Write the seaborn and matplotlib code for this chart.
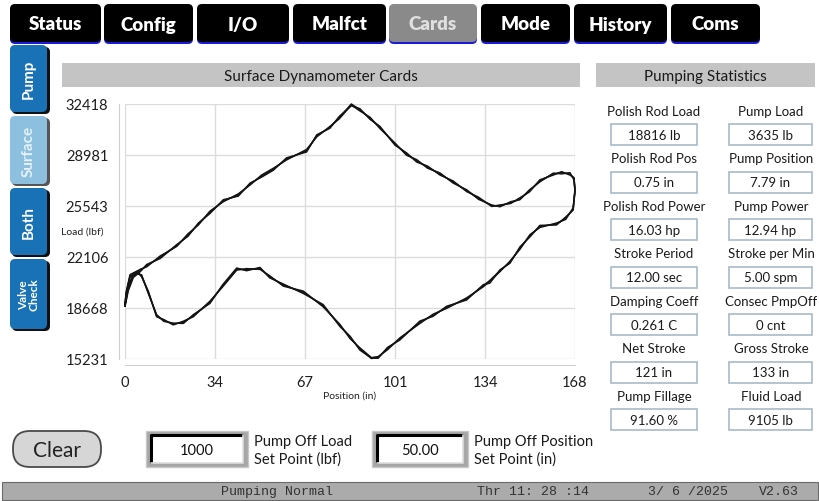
import numpy as np
import pandas as pd
import matplotlib
matplotlib.use("Agg")
import matplotlib.pyplot as plt
from matplotlib.patches import FancyBboxPatch, Rectangle
from matplotlib.ticker import AutoMinorLocator
import seaborn as sns

# surface card, three overlaid strokes (position in, load lbf)
position = [0.0, 1.2, 3.1, 5.6, 8.1, 13.1, 19.3, 23.5, 27.4, 31.7,
            36.7, 42.3, 46.7, 51.0, 55.4, 60.3, 67.8, 71.6, 76.5, 80.0,
            84.5, 87.7, 91.5, 95.2, 100.8, 105.1, 108.9, 113.0, 117.6, 122.5,
            127.6, 132.0, 136.9, 140.0, 144.0, 147.4, 151.0, 154.9, 159.9, 163.0,
            166.1, 167.6, 168.0, 167.3, 164.5, 161.1, 154.9, 151.2, 147.5, 143.7,
            140.0, 136.2, 133.8, 127.5, 120.1, 115.0, 110.1, 102.6, 98.0, 94.5,
            92.0, 87.7, 84.0, 80.3, 74.0, 66.6, 59.1, 54.0, 50.4, 45.4,
            41.7, 36.5, 31.7, 25.5, 21.8, 18.0, 14.5, 11.8, 8.7, 6.2,
            4.4, 1.9, 0.4, 0.0]
load_a = [18800, 19920, 20820, 21160, 21500, 22060, 22850, 23550, 24310, 25100,
          25880, 26270, 27010, 27550, 28020, 28700, 29260, 30270, 30840, 31500,
          32418, 32030, 31450, 30840, 29710, 29040, 28580, 28150, 27690, 27150,
          26560, 26050, 25545, 25545, 25750, 26000, 26550, 27230, 27690, 27780,
          27690, 27400, 26600, 25320, 24700, 24310, 24150, 23520, 22700, 21730,
          21160, 20500, 20150, 19250, 18690, 18150, 17680, 16550, 15900, 15300,
          15231, 15870, 16660, 17445, 18795, 19700, 20190, 20750, 21320, 21225,
          21270, 20150, 19020, 18120, 17675, 17560, 17800, 18120, 19700, 20820,
          21050, 20820, 19600, 18800]
load_b = [18850, 20100, 20950, 21250, 21420, 22150, 22800, 23650, 24250, 25180,
          25820, 26350, 26950, 27620, 28080, 28640, 29350, 30200, 30900, 31420,
          32350, 31950, 31520, 30760, 29780, 28960, 28660, 28080, 27760, 27080,
          26620, 25980, 25600, 25480, 25820, 25950, 26620, 27160, 27750, 27700,
          27780, 27300, 26500, 25400, 24620, 24380, 24080, 23600, 22620, 21800,
          21100, 20450, 20080, 19320, 18620, 18220, 17600, 16620, 15820, 15360,
          15290, 15950, 16580, 17520, 18720, 19780, 20120, 20820, 21250, 21300,
          21200, 20080, 19100, 18050, 17750, 17500, 17860, 18050, 19780, 20750,
          21120, 20900, 19700, 18850]
load_c = [18750, 19800, 20700, 21080, 21580, 21980, 22920, 23480, 24380, 25020,
          25950, 26200, 27080, 27480, 27950, 28780, 29180, 30340, 30780, 31580,
          32300, 32100, 31380, 30900, 29640, 29120, 28500, 28220, 27620, 27220,
          26500, 26120, 25500, 25600, 25700, 26080, 26480, 27300, 27620, 27850,
          27620, 27450, 26700, 25250, 24780, 24250, 24220, 23450, 22780, 21660,
          21220, 20320, 20220, 19180, 18760, 18080, 17760, 16480, 15980, 15250,
          15260, 15800, 16740, 17380, 18870, 19620, 20260, 20680, 21380, 21160,
          21340, 20220, 18950, 18190, 17600, 17620, 17740, 18190, 19620, 20880,
          20980, 20740, 19520, 18780]

x_ticks = [0, 33.6, 67.2, 100.8, 134.4, 168]
x_tick_labels = ["0", "34", "67", "101", "134", "168"]
y_ticks = [15231, 18668.4, 22105.8, 25543.2, 28980.6, 32418]
y_tick_labels = ["15231", "18668", "22106", "25543", "28981", "32418"]

tabs = ["Status", "Config", "I/O", "Malfct", "Cards", "Mode", "History", "Coms"]
active_tab = "Cards"
side_buttons = ["Pump", "Surface", "Both", "Valve\nCheck"]
active_button = "Surface"

stat_labels_left = ["Polish Rod Load", "Polish Rod Pos", "Polish Rod Power", "Stroke Period",
                    "Damping Coeff", "Net Stroke", "Pump Fillage"]
stat_values_left = ["18816 lb", "0.75 in", "16.03 hp", "12.00 sec", "0.261 C", "121 in", "91.60 %"]
stat_labels_right = ["Pump Load", "Pump Position", "Pump Power", "Stroke per Min",
                     "Consec PmpOff", "Gross Stroke", "Fluid Load"]
stat_values_right = ["3635 lb", "7.79 in", "12.94 hp", "5.00 spm", "0 cnt", "133 in", "9105 lb"]

setpoint_values = ["1000", "50.00"]
setpoint_labels = ["Pump Off Load\nSet Point (lbf)", "Pump Off Position\nSet Point (in)"]
status_texts = ["Pumping Normal", "Thr 11: 28 :14", "3/ 6 /2025", "V2.63"]

n = len(position)
df = pd.DataFrame({
    "position": position * 3,
    "load": load_a + load_b + load_c,
    "stroke": ["a"] * n + ["b"] * n + ["c"] * n,
})

sns.set_style("white")
plt.rcParams["font.family"] = ["Lato", "DejaVu Sans"]

W, H = 820, 502
fig = plt.figure(figsize=(W / 100, H / 100), dpi=100)
fig.patch.set_facecolor("white")

# pixel-space canvas for the HMI chrome
ui = fig.add_axes([0, 0, 1, 1])
ui.set_xlim(0, W)
ui.set_ylim(H, 0)
ui.axis("off")


def rbox(x0, y0, x1, y1, fc, ec="none", lw=0, r=4, z=1):
    p = FancyBboxPatch((x0, y0), x1 - x0, y1 - y0,
                       boxstyle=f"round,pad=0,rounding_size={r}",
                       fc=fc, ec=ec, lw=lw, zorder=z)
    ui.add_patch(p)


# top tabs
tab_edges = [(10, 101), (104, 193), (197, 289), (293, 386),
             (389, 477), (481, 570), (574, 667), (671, 760)]
for name, (a, b) in zip(tabs, tab_edges):
    rbox(a, 8, b, 45, "#1a1ad8", r=5)
    active = name == active_tab
    rbox(a, 5, b, 43, "#8a8a8a" if active else "black", r=5, z=2)
    ui.text((a + b) / 2, 25, name, ha="center", va="center", fontsize=13.5,
            fontweight="heavy", color="#e0e0e0" if active else "white", zorder=3)

# side buttons
btn_edges = [(46, 113), (117, 185), (189, 256), (260, 330)]
for name, (a, b) in zip(side_buttons, btn_edges):
    active = name == active_button
    rbox(12, a + 2, 50, b + 2, "#555555" if active else "#101010", r=5)
    rbox(10, a, 47, b, "#8dbfdf" if active else "#1a72b6", r=5, z=2)
    ui.text(29, (a + b) / 2, name, ha="center", va="center", rotation=90,
            fontsize=11 if "\n" not in name else 8.5, fontweight="bold",
            color="#e6f2fb" if active else "white", linespacing=0.95, zorder=3)

# header bars
ui.add_patch(Rectangle((62, 64), 518, 24, fc="#c4c4c4", ec="none"))
ui.text(321, 77, "Surface Dynamometer Cards", ha="center", va="center", fontsize=11, color="#1a1a1a")
ui.add_patch(Rectangle((596, 64), 219, 24, fc="#c4c4c4", ec="none"))
ui.text(705, 77, "Pumping Statistics", ha="center", va="center", fontsize=11, color="#1a1a1a")

# statistics fields
for i in range(len(stat_labels_left)):
    dy = 47.5 * i
    for cx, (bx0, bx1), lab, val in [(654, (611, 697), stat_labels_left[i], stat_values_left[i]),
                                     (771, (729, 812), stat_labels_right[i], stat_values_right[i])]:
        ui.text(cx, 112 + dy, lab, ha="center", va="center", fontsize=9.5, color="#1a1a1a")
        ui.add_patch(Rectangle((bx0, 125 + dy), bx1 - bx0, 21, fc="white", ec="#a9b9ca", lw=1.2))
        ui.text((bx0 + bx1) / 2, 136 + dy, val, ha="center", va="center", fontsize=9.5, color="#1a1a1a")

# clear button
rbox(13, 432, 101, 468, "#d6d6d6", ec="#4a4a4a", lw=1.3, r=17)
ui.text(57, 451, "Clear", ha="center", va="center", fontsize=15, color="#222222", zorder=3)

# set point boxes (sunken look)
for (a, b), val, lab in zip([(146, 248), (372, 468)], setpoint_values, setpoint_labels):
    ui.add_patch(Rectangle((a, 432), b - a, 36, fc="#a6a6a6", ec="#c8c8c8", lw=1))
    ui.add_patch(Rectangle((a + 5, 436), b - a - 10, 28, fc="white", ec="none"))
    ui.plot([a + 5, a + 5, b - 5], [464, 436, 436], color="black", lw=2.2,
            solid_capstyle="butt")
    ui.plot([a + 5, b - 5, b - 5], [464, 464, 436], color="#dedede", lw=1.2)
    ui.text((a + b) / 2, 451, val, ha="center", va="center", fontsize=10.5, color="#111111")
    ui.text(b + 6, 451, lab, ha="left", va="center", fontsize=10.5, color="#1a1a1a", linespacing=1.35)

# status bar
ui.add_patch(Rectangle((2, 483), 816, 18, fc="#ababab", ec="#6a6a6a", lw=0.8))
for cx, txt in zip([277, 533, 688, 779], status_texts):
    ui.text(cx, 492.5, txt, ha="center", va="center", fontsize=9.5, color="#333333",
            family=["Liberation Mono", "DejaVu Sans Mono"])

# axis captions
ui.text(82, 232, "Load (lbf)", ha="center", va="center", fontsize=7.5, color="#222222")
ui.text(350, 396, "Position (in)", ha="center", va="center", fontsize=7.5, color="#222222")

# chart
ax = fig.add_axes([125 / W, 1 - 359.5 / H, 450 / W, 254.5 / H])
ax.set_facecolor("white")
sns.lineplot(data=df, x="position", y="load", units="stroke", estimator=None, sort=False,
             color="#141414", linewidth=1.1, ax=ax, legend=False)
for ln in ax.lines:
    ln.set_clip_on(False)
ax.set_xlim(0, 168)
ax.set_ylim(15231, 32418)
ax.set_xticks(x_ticks, labels=x_tick_labels)
ax.set_yticks(y_ticks, labels=y_tick_labels)
ax.xaxis.set_minor_locator(AutoMinorLocator(5))
ax.yaxis.set_minor_locator(AutoMinorLocator(5))
ax.grid(True, which="major", color="#dcdcdc", lw=1)
for g in ax.get_xgridlines() + ax.get_ygridlines():
    g.set_clip_on(False)
ax.set_axisbelow(True)
ax.set_xlabel("")
ax.set_ylabel("")
for s in ["top", "right"]:
    ax.spines[s].set_visible(False)
for s in ["left", "bottom"]:
    ax.spines[s].set_position(("outward", 4.5))
    ax.spines[s].set_color("#d0d0d0")
ax.tick_params(which="both", direction="out", colors="#c4c4c4", labelcolor="#1e1e1e",
               labelsize=10.5, width=0.8)
ax.tick_params(which="major", length=5, pad=2.5)
ax.tick_params(which="minor", length=3)

fig.savefig("out.png", dpi=100, facecolor="white")
